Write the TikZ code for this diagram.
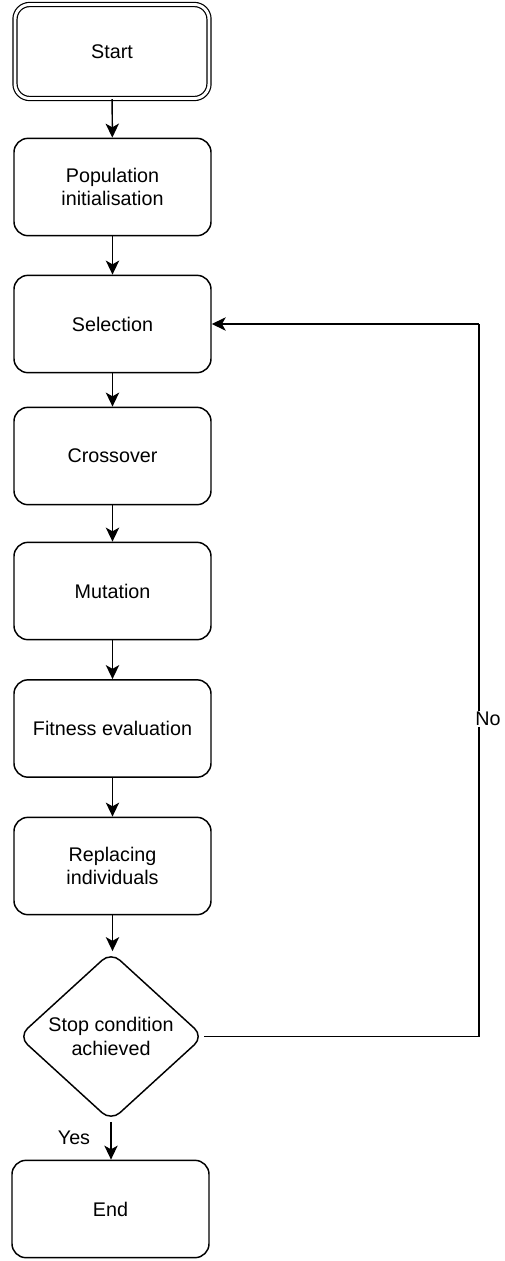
\documentclass[tikz,border=0pt]{standalone}
\usepackage{fontspec}
\setmainfont{Liberation Sans}
\usetikzlibrary{shapes.geometric,arrows.meta}
\begin{document}
\begin{tikzpicture}[x=0.75pt,y=-0.75pt,
  every node/.style={font=\fontsize{14.8}{17.6}\selectfont, align=center},
  procbox/.style={draw, line width=1.1pt, rounded corners=10.5pt, minimum width=147.75pt, minimum height=73pt, inner sep=0pt},
  startbox/.style={draw, line width=0.9pt, double, double distance=2.2pt, rounded corners=11pt, minimum width=145.5pt, minimum height=70.5pt, inner sep=0pt},
  decision/.style={draw, line width=1.1pt, diamond, rounded corners=9pt, minimum width=139pt, minimum height=127pt, inner sep=0pt},
  flow/.style={line width=1.1pt, -{Stealth[length=10.5pt,width=10pt,inset=2.8pt]}},
  lbl/.style={fill=white, inner sep=1pt}
]
\useasboundingbox (0,0) rectangle (505,1261);
\node[startbox] (start) at (112,51.5) {Start};
\node[procbox] (pop) at (112.5,187) {Population\\initialisation};
\node[procbox] (sel) at (112.5,324) {Selection};
\node[procbox] (cross) at (112.5,456) {Crossover};
\node[procbox] (mut) at (112.5,591) {Mutation};
\node[procbox] (fit) at (112.5,728.5) {Fitness evaluation};
\node[procbox] (rep) at (112.5,866) {Replacing\\individuals};
\node[decision] (stop) at (111,1036.5) {Stop condition\\achieved};
\node[procbox] (end) at (110.5,1209) {End};
\coordinate (cA) at (479,1036.5);
\coordinate (cB) at (479,324);

\draw[flow] (start) -- (pop);
\draw[flow] (pop) -- (sel);
\draw[flow] (sel) -- (cross);
\draw[flow] (cross) -- (mut);
\draw[flow] (mut) -- (fit);
\draw[flow] (fit) -- (rep);
\draw[flow] (rep.south) -- (rep.south |- stop.north);
\draw[flow] (stop.south) -- (stop.south |- end.north);
\draw[line width=1.1pt] (stop.east) -- (cA) -- (cB);
\draw[flow] (cB) -- (sel.east);
\node[lbl] (no) at (488,719) {No};
\node (yes) at (74,1138) {Yes};
\end{tikzpicture}
\end{document}
